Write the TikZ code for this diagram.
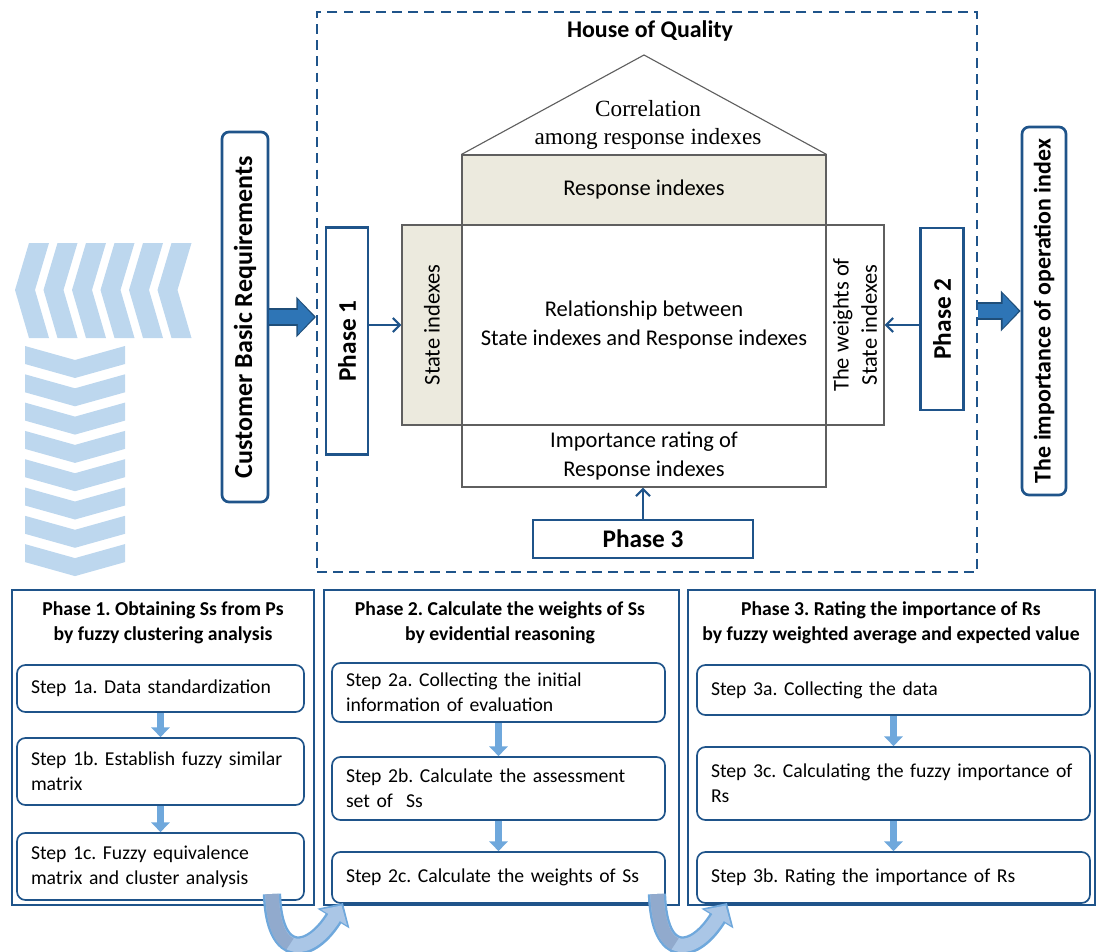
\documentclass[tikz,border=0pt]{standalone}
\usepackage{fontspec}
\setmainfont{Carlito}
\newfontfamily\roofserif{Liberation Serif}
\usetikzlibrary{arrows.meta,positioning,calc}
\frenchspacing

\definecolor{boxblue}{RGB}{31,84,138}
\definecolor{cellgray}{RGB}{95,95,95}
\definecolor{beige}{RGB}{236,234,222}
\definecolor{chevron}{RGB}{189,215,238}
\definecolor{fatblue}{RGB}{46,117,182}
\definecolor{fatedge}{RGB}{31,78,121}
\definecolor{stepblue}{RGB}{111,168,220}
\definecolor{curvefill}{RGB}{170,198,230}
\definecolor{curvedark}{RGB}{145,170,205}

\def\u{0.025cm}

\tikzset{
    cell/.style={draw=cellgray, line width=0.8pt, inner sep=0pt, align=center,
        font=\fontsize{16}{20}\selectfont},
    phasebar/.style={draw=boxblue, line width=1.9pt, fill=white, inner sep=0pt,
        font=\bfseries\fontsize{18}{21}\selectfont},
    sidebar/.style={phasebar, rounded corners=5pt},
    phasebox/.style={draw=boxblue, line width=1.9pt, inner sep=0pt},
    phasetitle/.style={align=center, font=\bfseries\fontsize{14}{18}\selectfont},
    stepbox/.style={draw=boxblue, line width=1.2pt, rounded corners=6pt,
        align=left, inner xsep=14*\u, inner ysep=0pt,
        font=\fontsize{14}{17.5}\selectfont},
    thinarrow/.style={draw=boxblue, line width=1.5pt,
        -{Straight Barb[length=5pt,width=10pt]}},
    fatedge/.style={draw=fatedge, line width=12.5pt,
        -{Triangle[width=28pt,length=14pt]}},
    fatarrow/.style={draw=fatblue, line width=10pt,
        -{Triangle[width=24pt,length=11.5pt]}},
    steparrow/.style={draw=stepblue, line width=5.5pt,
        -{Triangle[width=13pt,length=7pt]}},
}

\begin{document}
\begin{tikzpicture}[x=\u, y=-\u]
    \useasboundingbox (0,0) rectangle (1097,952);

    % Chevrons on the left
    \foreach \i in {0,...,5}{
        \fill[chevron] ({29+28.5*\i},243) -- ++(20,0) -- ++(-14,47)
            -- ++(14,48) -- ++(-20,0) -- ++(-14,-48) -- cycle;
    }
    \foreach \i in {0,...,7}{
        \fill[chevron] (25,{346+28.3*\i}) -- ++(50,14) -- ++(50,-14)
            -- ++(0,18) -- ++(-50,14) -- ++(-50,-14) -- cycle;
    }

    % House of Quality frame
    \node[draw=boxblue, line width=1.4pt, dash pattern=on 7pt off 4.5pt,
        minimum width=660*\u, minimum height=560*\u] (hoq) at (647,292) {};
    \node[font=\bfseries\fontsize{17}{20}\selectfont] (hoqtitle) at (650,31)
        {House of Quality};

    % House cells
    \node[cell, fill=beige, minimum width=364*\u, minimum height=70*\u]
        (resp) at (644,190) {Response indexes};
    \node[cell, minimum width=364*\u, minimum height=200*\u]
        (rel) at (644,325) {Relationship between\\State indexes and Response indexes};
    \node[cell, fill=beige, rotate=90, minimum width=200*\u, minimum height=60*\u]
        (state) at (432,325) {State indexes};
    \node[cell, rotate=90, minimum width=200*\u, minimum height=58*\u]
        (wts) at (855,325) {The weights of\\State indexes};
    \node[cell, minimum width=364*\u, minimum height=62*\u]
        (rate) at (644,456) {Importance rating of\\Response indexes};
    \draw[cellgray, line width=0.8pt] (resp.north west) -- (644,55)
        coordinate (apex) -- (resp.north east);
    \node[align=center, font=\roofserif\fontsize{16.5}{20.5}\selectfont]
        (corr) at (648,125) {Correlation\\among response indexes};

    % Phase bars
    \node[phasebar, rotate=90, minimum width=227*\u, minimum height=42*\u]
        (ph1) at (347,341) {Phase 1};
    \node[phasebar, rotate=90, minimum width=182*\u, minimum height=43*\u]
        (ph2) at (942,319) {Phase 2};
    \node[phasebar, minimum width=220*\u, minimum height=38*\u]
        (ph3) at (643,539) {Phase 3};
    \draw[thinarrow] (ph1.south |- state.center) -- (state.north);
    \draw[thinarrow] (ph2.north |- wts.center) -- (wts.south);
    \draw[thinarrow] (ph3.north) -- (ph3.north |- rate.south);

    % Input and output bars
    \node[sidebar, rotate=90, minimum width=370*\u, minimum height=46*\u,
        font=\bfseries\fontsize{18.5}{21}\selectfont]
        (cbr) at (245,317) {Customer Basic Requirements};
    \node[sidebar, rotate=90, minimum width=368*\u, minimum height=44*\u,
        font=\bfseries\fontsize{17}{21}\selectfont]
        (imp) at (1044,311) {The importance of operation index};
    \coordinate (inend) at (cbr.south -| hoq.west);
    \coordinate (outstart) at (hoq.east |- imp.center);
    \draw[fatedge] (cbr.south) -- (inend);
    \draw[fatarrow] (cbr.south) -- ($(inend)+(-2,0)$);
    \draw[fatedge] (outstart) -- (imp.north);
    \draw[fatarrow] (outstart) -- ($(imp.north)+(-2,0)$);

    % Phase boxes
    \node[phasebox, minimum width=302*\u, minimum height=315*\u]
        (pb1) at (163,747.5) {};
    \node[phasebox, minimum width=355*\u, minimum height=315*\u]
        (pb2) at (501.5,747.5) {};
    \node[phasebox, minimum width=407*\u, minimum height=315*\u]
        (pb3) at (891.5,747.5) {};
    \node[phasetitle] (pt1) at (163,623)
        {Phase 1. Obtaining Ss from Ps\\by fuzzy clustering analysis};
    \node[phasetitle] (pt2) at (500,623)
        {Phase 2. Calculate the weights of Ss\\by evidential reasoning};
    \node[phasetitle] (pt3) at (891,623)
        {Phase 3. Rating the importance of Rs\\by fuzzy weighted average and expected value};

    % Steps of phase 1
    \node[stepbox, text width=259*\u, minimum height=47*\u] (s1a) at (160.5,688.5)
        {Step 1a. Data standardization};
    \node[stepbox, text width=259*\u, minimum height=67*\u] (s1b) at (160.5,771.5)
        {Step 1b. Establish fuzzy similar\\matrix};
    \node[stepbox, text width=259*\u, minimum height=67*\u] (s1c) at (160.5,866.5)
        {Step 1c. Fuzzy equivalence\\matrix and cluster analysis};
    % Steps of phase 2
    \node[stepbox, text width=305*\u, minimum height=59*\u] (s2a) at (498.5,692.5)
        {Step 2a. Collecting the initial\\information of evaluation};
    \node[stepbox, text width=305*\u, minimum height=63*\u] (s2b) at (498.5,788.5)
        {Step 2b. Calculate the assessment\\set of~ Ss};
    \node[stepbox, text width=305*\u, minimum height=51*\u] (s2c) at (498.5,877.5)
        {Step 2c. Calculate the weights of Ss};
    % Steps of phase 3
    \node[stepbox, text width=365*\u, minimum height=50*\u] (s3a) at (893.5,690)
        {Step 3a. Collecting the data};
    \node[stepbox, text width=365*\u, minimum height=73*\u] (s3c) at (893.5,783.5)
        {Step 3c. Calculating the fuzzy importance of\\Rs};
    \node[stepbox, text width=365*\u, minimum height=51*\u] (s3b) at (893.5,877.5)
        {Step 3b. Rating the importance of Rs};

    \foreach \a/\b in {s1a/s1b, s1b/s1c, s2a/s2b, s2b/s2c, s3a/s3c, s3c/s3b}{
        \draw[steparrow] (\a.south) -- (\b.north);
    }

    % Curved arrows between phases
    \coordinate (c1s) at (272,894);
    \coordinate (c1e) at (343,903);
    \coordinate (c2s) at (657,894);
    \coordinate (c2e) at (727,903);
    \foreach \s/\e in {c1s/c1e, c2s/c2e}{
        \draw[stepblue, line width=13pt, -{Triangle[width=26pt,length=13pt]}]
            (\s) .. controls ($(\s)+(2,68)$) and ($(\e)+(-32,52)$) .. (\e);
        \draw[curvefill, line width=9.5pt, -{Triangle[width=21pt,length=10pt]}]
            (\s) .. controls ($(\s)+(2,68)$) and ($(\e)+(-32,52)$) .. ($(\e)+(-1.5,2.5)$);
        \draw[curvedark, line width=9.5pt]
            (\s) .. controls ($(\s)+(1,30)$) and ($(\s)+(8,45)$) .. ($(\s)+(18,50)$);
    }

\end{tikzpicture}
\end{document}
